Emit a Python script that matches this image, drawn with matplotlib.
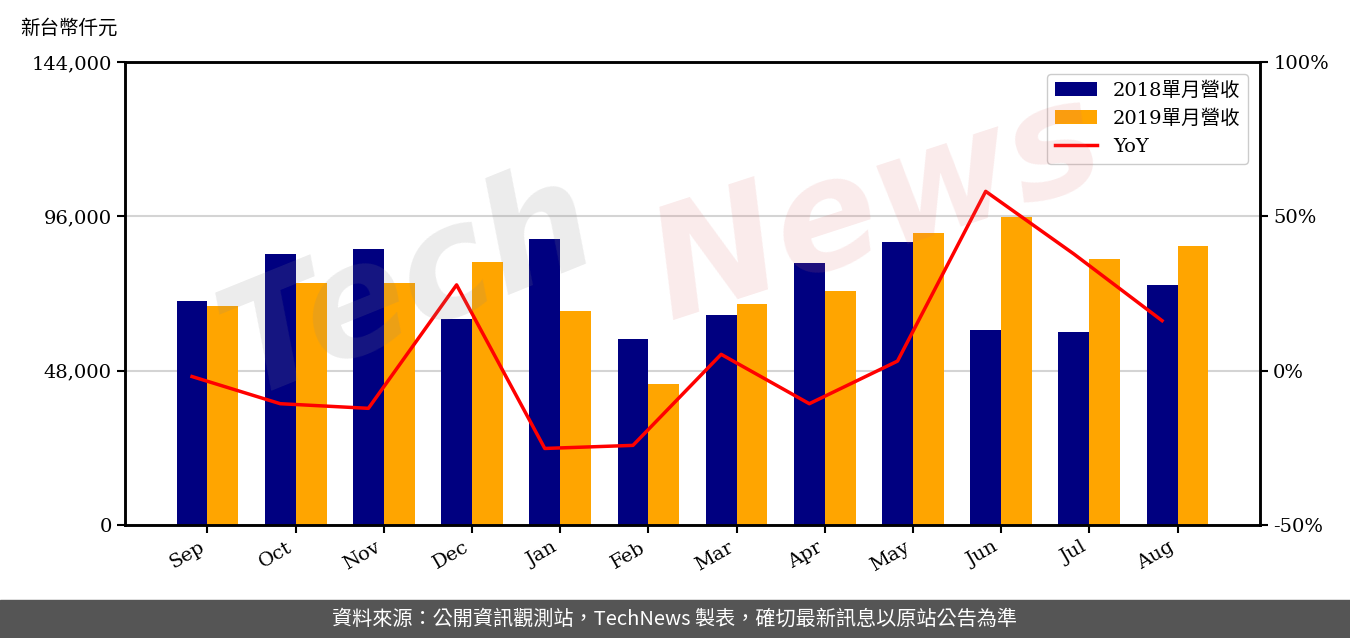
import numpy as np
import matplotlib.pyplot as plt
from matplotlib.ticker import FuncFormatter

months = ['Sep', 'Oct', 'Nov', 'Dec', 'Jan', 'Feb', 'Mar', 'Apr', 'May', 'Jun', 'Jul', 'Aug']
rev_2018 = [69700, 84300, 85800, 64100, 89000, 57800, 65300, 81500, 88000, 60600, 60000, 74600]
rev_2019 = [68100, 75300, 75300, 81800, 66600, 43900, 68700, 72800, 90800, 95800, 82700, 86800]
yoy = [-1.9, -10.7, -12.2, 27.8, -25.2, -24.2, 5.3, -10.7, 3.1, 58.1, 37.8, 16.2]

serif = ['DejaVu Serif', 'Noto Sans CJK TC']
plt.rcParams['font.family'] = serif

fig = plt.figure(figsize=(13.5, 6.38), dpi=100)
ax = fig.add_axes([0.0926, 0.1771, 0.8407, 0.7257])
ax2 = ax.twinx()

x = np.arange(len(months))
w = 0.35
ax.bar(x - w / 2, rev_2018, w, color='#000080', label='2018單月營收', zorder=2)
ax.bar(x + w / 2, rev_2019, w, color='#ffa500', label='2019單月營收', zorder=2)
ln, = ax2.plot(x - w / 2, yoy, color='red', lw=2.5, label='YoY')

ax.set_ylim(0, 144000)
ax.set_yticks([0, 48000, 96000, 144000])
ax.yaxis.set_major_formatter(FuncFormatter(lambda v, p: f'{v:,.0f}'))
ax.grid(axis='y', color='#d4d4d4', lw=1.5, zorder=0)
ax.set_axisbelow(True)
ax.set_xticks(x)
ax.set_xticklabels(months, rotation=30, ha='right', fontsize=14)
ax.tick_params(axis='y', labelsize=14, length=6, width=1.5)
ax.tick_params(axis='x', length=6, width=1.5)

ax2.set_ylim(-50, 100)
ax2.set_yticks([-50, 0, 50, 100])
ax2.yaxis.set_major_formatter(FuncFormatter(lambda v, p: f'{v:.0f}%'))
ax2.tick_params(axis='y', labelsize=14, length=6, width=1.5)

for a in (ax, ax2):
    for s in a.spines.values():
        s.set_linewidth(1.8)

h1, l1 = ax.get_legend_handles_labels()
leg = ax2.legend(h1 + [ln], l1 + ['YoY'], loc='upper right', fontsize=14,
                 frameon=True, edgecolor='#cccccc', fancybox=True, framealpha=1,
                 handlelength=2.2, borderaxespad=0.6)

# faint watermark
fig.text(0.15, 0.38, 'Tech', fontsize=110, color='#888888', alpha=0.16,
         rotation=22, fontstyle='italic', fontweight='bold', family='DejaVu Sans')
fig.text(0.47, 0.50, 'News', fontsize=110, color='#e07070', alpha=0.14,
         rotation=18, fontstyle='italic', fontweight='bold', family='DejaVu Sans')

fig.text(0.015, 0.955, '新台幣仟元', fontsize=14, va='center', ha='left')

# footer band
fig.patches.append(plt.Rectangle((0, 0), 1, 38 / 638, transform=fig.transFigure,
                                 color='#555555', zorder=0))
fig.text(0.5, 19 / 638, '資料來源：公開資訊觀測站，TechNews 製表，確切最新訊息以原站公告為準',
         color='white', fontsize=14.5, ha='center', va='center',
         family=['Noto Sans CJK TC', 'DejaVu Sans'])

fig.savefig('out.png', dpi=100)
